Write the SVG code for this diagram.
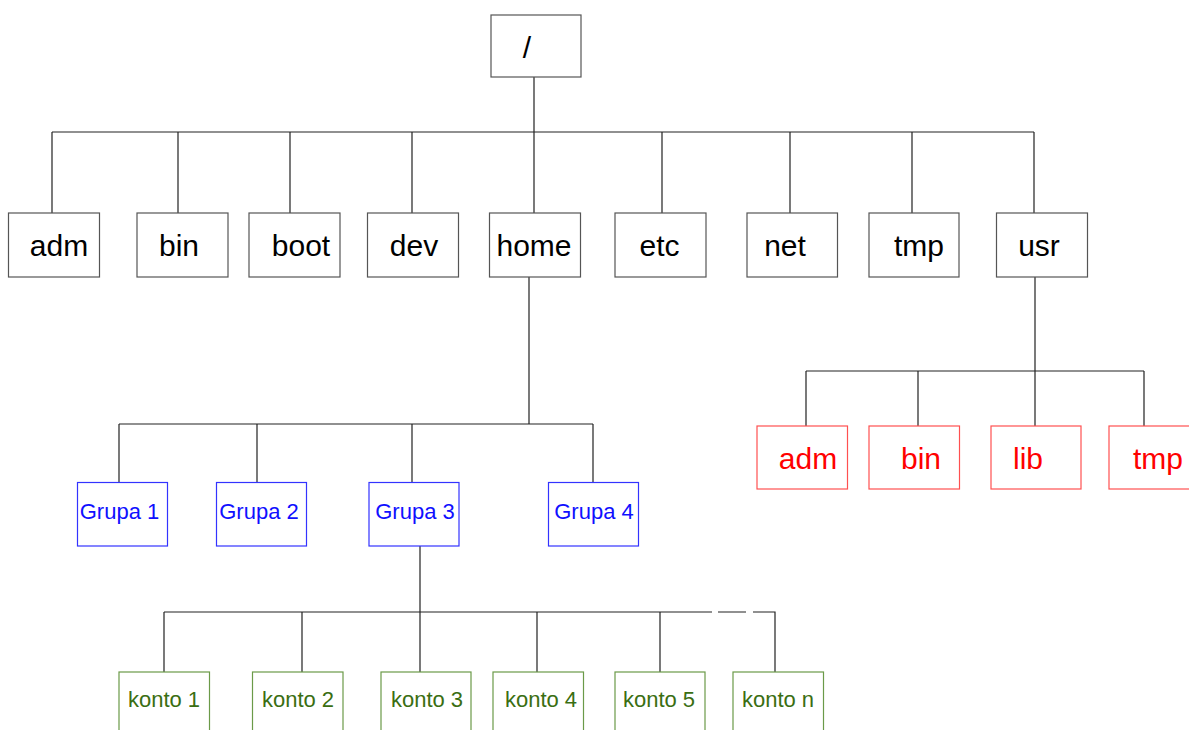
<svg xmlns="http://www.w3.org/2000/svg" width="1189" height="730" viewBox="0 0 1189 730">
  <style>
    text { font-family: "Liberation Sans", Arial, sans-serif; text-anchor: middle; }
    .box { fill: #ffffff; stroke-width: 1.2; }
    .sys rect { stroke: #555555; }
    .sys text { font-size: 30px; fill: #000000; }
    .usr rect { stroke: #ff5050; }
    .usr text { font-size: 30px; fill: #ff0000; }
    .grp rect { stroke: #3333ff; }
    .grp text { font-size: 22px; fill: #1010ff; }
    .acc rect { stroke: #6b9a48; }
    .acc text { font-size: 22px; fill: #3a6e12; }
    .wire { fill: none; stroke: #222222; stroke-width: 1.2; }
  </style>

  <!-- connectors -->
  <g id="connectors" class="wire">
    <!-- root to first level -->
    <path d="M534 77 V132 M52 132 H1034"/>
    <path d="M52 132 V213 M178 132 V213 M290 132 V213 M412 132 V213 M534 132 V213 M662 132 V213 M790 132 V213 M912 132 V213 M1034 132 V213"/>
    <!-- home to groups -->
    <path d="M529 277 V424 M119 424 H593"/>
    <path d="M119 424 V482 M257 424 V482 M412 424 V482 M593 424 V482"/>
    <!-- group 3 to accounts -->
    <path d="M420 546 V612 M164 612 H712 M718 612 H746 M753 612 H775 V672"/>
    <path d="M164 612 V672 M302 612 V672 M420 612 V672 M537 612 V672 M660 612 V672"/>
    <!-- usr subtree -->
    <path d="M1035 277 V426 M806 371 H1144"/>
    <path d="M806 371 V426 M918 371 V426 M1144 371 V426"/>
  </g>

  <!-- root -->
  <g id="root" class="sys">
    <rect class="box" x="491" y="15" width="90" height="62"/>
    <text x="527" y="58">/</text>
  </g>

  <!-- first level -->
  <g id="adm" class="sys"><rect class="box" x="8.5" y="213" width="91" height="64"/><text x="59" y="255.5">adm</text></g>
  <g id="bin" class="sys"><rect class="box" x="137" y="213" width="91" height="64"/><text x="179" y="255.5">bin</text></g>
  <g id="boot" class="sys"><rect class="box" x="249" y="213" width="91" height="64"/><text x="301" y="255.5">boot</text></g>
  <g id="dev" class="sys"><rect class="box" x="367.5" y="213" width="91" height="64"/><text x="414" y="255.5">dev</text></g>
  <g id="home" class="sys"><rect class="box" x="489.5" y="213" width="91" height="64"/><text x="534" y="255.5">home</text></g>
  <g id="etc" class="sys"><rect class="box" x="615" y="213" width="91" height="64"/><text x="659.5" y="255.5">etc</text></g>
  <g id="net" class="sys"><rect class="box" x="747" y="213" width="90.5" height="64"/><text x="785" y="255.5">net</text></g>
  <g id="tmp" class="sys"><rect class="box" x="869" y="213" width="90" height="64"/><text x="919" y="255.5">tmp</text></g>
  <g id="usr" class="sys"><rect class="box" x="996.5" y="213" width="91" height="64"/><text x="1039" y="255.5">usr</text></g>

  <!-- usr children -->
  <g id="usr-adm" class="usr"><rect class="box" x="757" y="426" width="90.5" height="63"/><text x="808" y="468.5">adm</text></g>
  <g id="usr-bin" class="usr"><rect class="box" x="869" y="426" width="90.5" height="63"/><text x="921" y="468.5">bin</text></g>
  <g id="usr-lib" class="usr"><rect class="box" x="991" y="426" width="90" height="63"/><text x="1028" y="468.5">lib</text></g>
  <g id="usr-tmp" class="usr"><rect class="box" x="1109" y="426" width="91" height="63"/><text x="1158" y="468.5">tmp</text></g>

  <!-- groups -->
  <g id="grupa1" class="grp"><rect class="box" x="77.5" y="482.5" width="90" height="63.5"/><text x="119.5" y="518.5">Grupa 1</text></g>
  <g id="grupa2" class="grp"><rect class="box" x="216.5" y="482.5" width="90" height="63.5"/><text x="259" y="518.5">Grupa 2</text></g>
  <g id="grupa3" class="grp"><rect class="box" x="369" y="482.5" width="90" height="63.5"/><text x="415" y="518.5">Grupa 3</text></g>
  <g id="grupa4" class="grp"><rect class="box" x="548.5" y="482.5" width="90" height="63.5"/><text x="594" y="518.5">Grupa 4</text></g>

  <!-- accounts -->
  <g id="konto1" class="acc"><rect class="box" x="119" y="672" width="90.5" height="64"/><text x="164" y="707">konto 1</text></g>
  <g id="konto2" class="acc"><rect class="box" x="252.5" y="672" width="90.5" height="64"/><text x="298" y="707">konto 2</text></g>
  <g id="konto3" class="acc"><rect class="box" x="381" y="672" width="90" height="64"/><text x="427" y="707">konto 3</text></g>
  <g id="konto4" class="acc"><rect class="box" x="493" y="672" width="90.5" height="64"/><text x="541" y="707">konto 4</text></g>
  <g id="konto5" class="acc"><rect class="box" x="615" y="672" width="90" height="64"/><text x="659" y="707">konto 5</text></g>
  <g id="kontoN" class="acc"><rect class="box" x="733" y="672" width="90.5" height="64"/><text x="778" y="707">konto n</text></g>
</svg>
